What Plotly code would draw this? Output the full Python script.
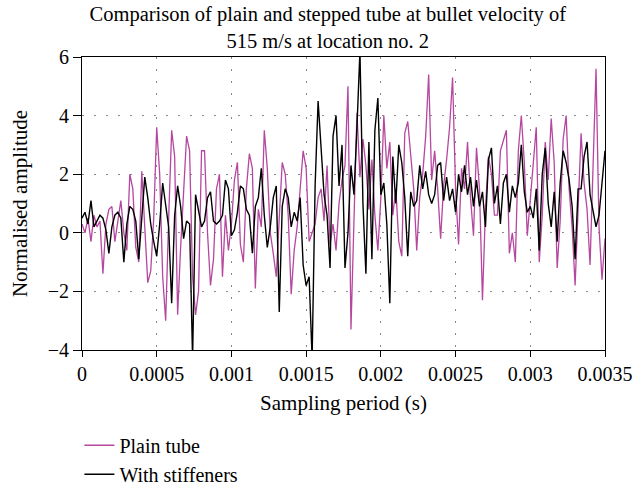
import numpy as np
import plotly.graph_objects as go

# sampling step of the digitised signals (s)
sample_step = 0.00002

plain_tube = [
    0.3, 0.0, 0.5, -0.3, 0.6, 0.2, 0.4, -1.4, 0.3, 0.8,
    0.9, -0.3, 0.4, 1.1, 0.0, -0.6, 2.0, 1.5, -0.5, -1.0,
    2.1, 0.0, -1.7, -1.3, 0.5, 3.6, 2.0, -1.5,
    -3.0, 0.5, 3.5, 2.6, -2.8, -0.5, 1.5, 3.3, 2.8, -1.5,
    -2.8, -2.0, 2.8, 2.8, 0.0, -1.8, -0.9, 1.5, 2.0, -1.5,
    0.6, -0.6, 0.3, 1.8, 2.4, -0.4, -1.0, 1.5, 2.7,
    2.2, -1.9, 0.8, 0.2, 3.5, 2.2, 0.0, -0.7, -1.5, 0.5,
    2.4, 2.0, 0.6, -2.1, -0.6, 0.2, 1.5, 2.8, 2.2, -0.3,
    0.0, 0.3, 1.2, 1.5, 0.4, 2.3, -0.4, 0.3, -0.6, 1.0,
    1.8, 2.3,
    5.0, -3.3, 0.4, 4.1, 1.9, 3.2, 2.3, 0.8, 2.5, 0.6,
    -0.6, 1.2, 4.0, 2.2, 3.1, 0.6, 1.5, -0.3, -0.8, 3.4,
    3.8, 2.5, 1.5, -0.6, 1.2, 2.0, 3.3, 5.4, 1.8,
    2.8, 1.5, -0.2, 1.6, 2.5, 3.6, 5.3, 1.5, -0.4, 2.2,
    1.5, 3.1, 1.2, -0.1, 2.9, 1.5, -2.3, 0.8, 2.6, 2.0,
    0.6, 0.6, 2.8, 3.2, 3.5, -0.7, 0.0, -1.0, 2.8,
    4.0, 2.4, -0.1, 1.2, 2.6, 3.6, -1.0, 0.6, 3.1, 1.8,
    3.9, 2.4, -1.2, 0.4, 3.2, 4.0, 1.5, 0.2, -1.8, 0.8,
    3.4, 1.7, 0.8, -1.1, 2.6, 5.6, 0.2, -1.6, -0.2,
]

with_stiffeners = [
    0.5, 0.7, 0.3, 1.1, 0.2, 0.4, 0.6, 0.5, 0.1, -0.7,
    0.2, 0.6, 0.7, 0.5, -1.0, 0.3, 0.9, 0.8, 0.4, -0.9,
    0.5, 1.9, 1.2, 0.3, -0.3, -0.8, 0.3, 1.7,
    0.95, 0.2, -2.4, 0.6, 1.6, 0.9, -0.2, 0.4, 0.3, -4.3,
    1.3, 0.8, 0.2, 0.4, 1.2, 1.4, 0.4, 0.3, 0.4, 0.6,
    1.8, 1.5, -0.1, 0.1, 0.7, 1.6, 1.5, 0.8, 0.6,
    -0.7, 0.9, 1.2, 2.2, 0.6, -0.5, 0.2, 1.2, 1.6, -2.7,
    0.9, 1.5, 1.2, 0.2, 0.7, 0.4, 1.2, -1.1, -1.8, -1.5,
    -4.3, 1.6, 4.5, 2.7, 1.3, 0.6, -1.2, 3.3, 4.0, 1.6,
    3.0, -1.2,
    0.0, 2.3, 1.3, 3.6, 6.2, 1.0, -1.4, 3.1, -0.9, 3.5,
    4.6, 1.3, 1.7, 0.3, -2.4, 2.6, 1.0, 3.0, 2.4, 1.2,
    -0.8, 1.4, 0.9, 1.1, 2.3, 1.5, 2.1, 1.3, 1.0,
    1.3, 2.3, 2.4, 1.1, 1.9, 1.1, 1.5, 0.7, 2.0, 1.4,
    2.3, 1.3, 1.9, 0.9, 1.8, 0.9, 1.4, 0.2, 2.5, 2.9,
    1.0, 1.6, 0.3, 1.7, 2.0, 0.7, 1.6, 1.2, 1.7,
    3.0, 1.4, 0.7, 0.9, 0.5, 1.5, -0.6, 2.0, 2.9, 1.0,
    0.2, 1.4, -0.3, 1.7, 2.8, 2.4, 1.8, 0.9, -0.9, 1.5,
    1.5, 2.6, 3.1, 1.3, 0.7, 0.2, 0.6, 1.8, 2.8,
]

x_tick_values = [0, 0.0005, 0.001, 0.0015, 0.002, 0.0025, 0.003, 0.0035]
x_tick_labels = ["0", "0.0005", "0.001", "0.0015", "0.002", "0.0025", "0.003", "0.0035"]
y_tick_values = [-4, -2, 0, 2, 4, 6]

t_plain = np.arange(len(plain_tube)) * sample_step
t_stiff = np.arange(len(with_stiffeners)) * sample_step

FONT = "Liberation Serif"

fig = go.Figure()
fig.add_trace(go.Scatter(x=t_plain, y=plain_tube, mode="lines", name="Plain tube",
                         line=dict(color="#b5479f", width=1.3)))
fig.add_trace(go.Scatter(x=t_stiff, y=with_stiffeners, mode="lines", name="With stiffeners",
                         line=dict(color="#000000", width=1.4)))

fig.update_layout(
    width=634, height=486,
    margin=dict(l=82, r=29, t=57, b=136, autoexpand=False),
    paper_bgcolor="white", plot_bgcolor="white",
    font=dict(family=FONT, size=20, color="black"),
    title=dict(text="Comparison of plain and stepped tube at bullet velocity of<br>515 m/s at location no. 2",
               x=0.517, xanchor="center", y=0.957, yanchor="middle",
               font=dict(family=FONT, size=20.5, color="black")),
    showlegend=True,
    legend=dict(x=-0.005, y=0.124, xanchor="left", yanchor="top", yref="container",
                font=dict(family=FONT, size=20), bgcolor="rgba(0,0,0,0)",
                tracegroupgap=0, itemwidth=30),
    xaxis=dict(range=[0, 0.0035], tickvals=x_tick_values, ticktext=x_tick_labels,
               showline=True, linecolor="black", linewidth=1, mirror=True,
               ticks="outside", ticklen=6, tickcolor="black",
               showgrid=True, gridcolor="#888888", griddash="2px,10px", gridwidth=1,
               zeroline=False,
               title=dict(text="Sampling period (s)", font=dict(family=FONT, size=21), standoff=11)),
    yaxis=dict(range=[-4, 6], tickvals=y_tick_values,
               showline=True, linecolor="black", linewidth=1, mirror=True,
               ticks="outside", ticklen=8, tickcolor="black",
               showgrid=True, gridcolor="#888888", griddash="2px,10px", gridwidth=1,
               zeroline=False,
               title=dict(text="Normalised amplitude", font=dict(family=FONT, size=21), standoff=14)),
)

fig.write_html("out.html")
